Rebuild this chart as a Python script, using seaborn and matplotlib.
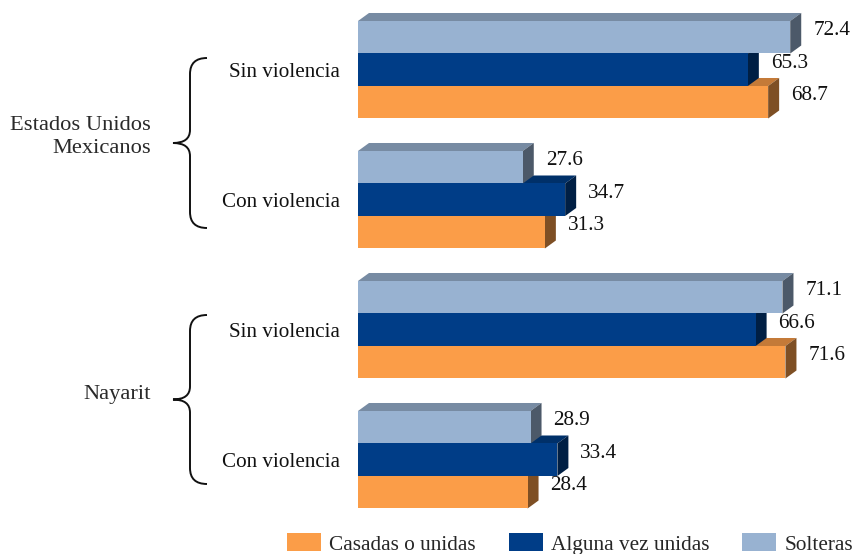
import numpy as np
import pandas as pd
import matplotlib.pyplot as plt
import seaborn as sns
from matplotlib.patches import Polygon, Patch, PathPatch
from matplotlib.path import Path
from matplotlib.colors import to_rgb

grupos = ["Estados Unidos Mexicanos", "Estados Unidos Mexicanos", "Nayarit", "Nayarit"]
situacion = ["Sin violencia", "Con violencia", "Sin violencia", "Con violencia"]
solteras = [72.4, 27.6, 71.1, 28.9]
alguna_vez = [65.3, 34.7, 66.6, 33.4]
casadas = [68.7, 31.3, 71.6, 28.4]

niveles = ["Solteras", "Alguna vez unidas", "Casadas o unidas"]
orden_leyenda = ["Casadas o unidas", "Alguna vez unidas", "Solteras"]
colores = {"Solteras": "#98B2D1", "Alguna vez unidas": "#003D87", "Casadas o unidas": "#FB9D48"}

filas = [f"{g} - {s}" for g, s in zip(grupos, situacion)]
df = pd.DataFrame({
    "fila": filas * 3,
    "estado": np.repeat(niveles, len(filas)),
    "valor": solteras + alguna_vez + casadas,
})

sns.set_style("white")
plt.rcParams["font.family"] = ["Liberation Serif", "DejaVu Serif"]

W, H = 856, 554
fig = plt.figure(figsize=(W / 100, H / 100), dpi=100)
ax = fig.add_axes([358 / W, 34 / H, 498 / W, 520 / H])
sns.barplot(data=df, x="valor", y="fila", hue="estado", hue_order=niveles,
            palette=colores, width=0.75, saturation=1, legend=False,
            orient="h", errorbar=None, linewidth=0, ax=ax)

xmax = 498 / 5.97
ax.set_xlim(0, xmax)
ax.set_ylim(3.4635, -0.5365)
dx = 11 * xmax / 498
dy = 8 * 4.0 / 520


def shade(c, f):
    r, g, b = to_rgb(c)
    return (r * f, g * f, b * f)


capa = {"Casadas o unidas": 1, "Alguna vez unidas": 2, "Solteras": 3}
for nivel, cont in zip(niveles, ax.containers):
    z = capa[nivel]
    col = colores[nivel]
    for bar in cont:
        bar.set_zorder(z + 0.5)
        x1 = bar.get_width()
        yt = bar.get_y()
        yb = yt + bar.get_height()
        ax.add_patch(Polygon([(0, yt), (dx, yt - dy), (x1 + dx, yt - dy), (x1, yt)],
                             closed=True, fc=shade(col, 0.78), lw=0, zorder=z))
        ax.add_patch(Polygon([(x1, yt), (x1 + dx, yt - dy), (x1 + dx, yb - dy), (x1, yb)],
                             closed=True, fc=shade(col, 0.5), lw=0, zorder=z))
        ax.text(x1 + 3.85, (yt + yb) / 2 - dy * 0.8, f"{x1:.1f}", fontsize=15.3,
                ha="left", va="center", color="#111111", clip_on=False, zorder=5)

ax.set_yticks(range(len(situacion)))
ax.set_yticklabels(situacion)
ax.tick_params(axis="y", length=0, pad=13, labelsize=15.2, labelcolor="#111111")
ax.set_xticks([])
ax.set_xlabel("")
ax.set_ylabel("")
ax.patch.set_visible(False)
for s in ax.spines.values():
    s.set_visible(False)

# llaves y etiquetas de grupo (coordenadas en pixeles)
ov = fig.add_axes([0, 0, 1, 1], zorder=-1)
ov.set_xlim(0, W)
ov.set_ylim(H, 0)
ov.axis("off")


def llave(x, y0, y1, w=17):
    ym = (y0 + y1) / 2
    xs, xe = x + w, x + 2 * w
    verts = [(xe, y0), (xs, y0), (xs, y0 + 16), (xs, ym - 13),
             (xs, ym), (x, ym), (xs, ym), (xs, ym + 13),
             (xs, y1 - 16), (xs, y1), (xe, y1)]
    codes = [Path.MOVETO, Path.CURVE3, Path.CURVE3, Path.LINETO,
             Path.CURVE3, Path.CURVE3, Path.CURVE3, Path.CURVE3,
             Path.LINETO, Path.CURVE3, Path.CURVE3]
    ov.add_patch(PathPatch(Path(verts, codes), fc="none", ec="#111111", lw=1.4))


llave(173, 58, 228)
llave(173, 315, 484)
ov.text(151, 137, "Estados Unidos\nMexicanos", ha="right", va="center",
        fontsize=16.2, color="#2a2a2a", linespacing=1.27)
ov.text(151, 395, "Nayarit", ha="right", va="center", fontsize=16.2, color="#2a2a2a")

handles = [Patch(facecolor=colores[n], edgecolor="none", label=n) for n in orden_leyenda]
fig.legend(handles=handles, loc="center left", bbox_to_anchor=(287 / W, 1 - 544 / H),
           ncol=3, frameon=False, fontsize=15.3, handlelength=1.6, handleheight=0.9,
           handletextpad=0.38, columnspacing=1.55, borderpad=0, borderaxespad=0)

fig.savefig("out.png", dpi=100)
